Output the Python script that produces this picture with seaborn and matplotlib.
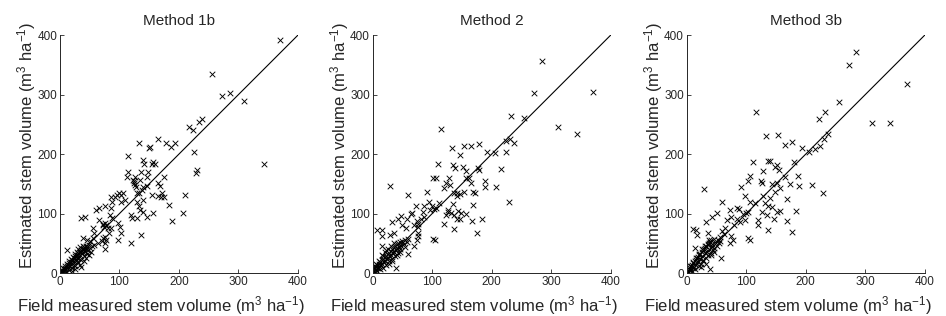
import numpy as np
import pandas as pd
import matplotlib
matplotlib.use("Agg")
import matplotlib.pyplot as plt
import seaborn as sns

# values (m3/ha)
axis_range = [0, 400]
tick_values = [0, 100, 200, 300, 400]
titles = ["Method 1b", "Method 2", "Method 3b"]

m1b_field = [370, 256, 272, 285, 310, 343, 216, 224, 233, 238, 225, 230, 229, 210, 206, 189, 184,
             164, 179, 187, 193, 174, 168, 172, 175, 169, 164, 157, 164, 155, 154, 156, 159, 149,
             151, 148, 147, 146, 147, 140, 137, 139, 132, 139, 141, 136, 134, 140, 138, 132, 130,
             132, 134, 130, 126, 123, 127, 129, 120, 121, 120, 115, 114, 112, 106, 109, 103, 100,
             103, 95, 92, 85, 88, 86, 84, 87, 76, 66, 60, 35, 42, 98, 101, 103, 98, 76, 78, 74, 80,
             85, 83, 76, 73, 77, 70, 64, 75, 76, 66, 56, 57, 55, 50, 53, 58, 45, 39, 11, 125, 126,
             124, 72, 73,
             1, 2, 3, 4, 5, 6, 7, 8, 9, 10, 11, 12, 13, 14, 15, 16, 17, 18, 19, 20, 21, 22, 23, 24,
             25, 26, 27, 28, 29, 30, 31, 32, 33, 34, 35, 36, 37, 38, 39, 40, 41, 42, 43, 44, 45, 46,
             47, 48, 50, 52, 30, 34, 38, 28, 25, 22, 18, 15, 12, 8, 5, 20, 26, 33, 40, 36, 44, 48,
             30, 35, 40, 27, 23]
m1b_est = [391, 335, 298, 302, 290, 183, 246, 240, 254, 259, 204, 173, 168, 131, 101, 88, 115,
           226, 218, 212, 219, 161, 147, 134, 128, 128, 151, 101, 130, 131, 184, 187, 184, 210,
           212, 170, 147, 162, 95, 103, 64, 123, 219, 190, 184, 170, 156, 145, 140, 134, 120,
           112, 106, 92, 162, 156, 145, 134, 98, 92, 50, 196, 170, 162, 134, 123, 131, 134,
           120, 131, 128, 128, 120, 109, 98, 92, 112, 109, 106, 92, 95, 84, 78, 67, 55, 84, 81, 78,
           75, 75, 67, 61, 59, 56, 53, 50, 50, 40, 89, 75, 67, 59, 53, 46, 47, 56, 59, 39, 152,
           148, 155, 80, 82,
           2, 0, 5, 3, 1, 7, 4, 9, 6, 2, 12, 8, 14, 10, 5, 17, 12, 19, 15, 8, 22, 18, 25, 20,
           12, 28, 23, 30, 26, 18, 33, 28, 36, 30, 22, 38, 33, 41, 35, 28, 43, 37, 45, 40, 32, 44,
           39, 47, 42, 36, 40, 44, 46, 35, 32, 27, 24, 20, 16, 12, 8, 3, 6, 14, 20, 10, 25, 30,
           25, 35, 40, 20, 14]

m2_field = [284, 271, 371, 232, 255, 311, 343, 115, 224, 230, 238, 224, 206, 192, 215, 208, 188,
            188, 229, 179, 165, 153, 147, 133, 135, 139, 151, 156, 177, 179, 110, 101, 106, 128,
            123, 130, 120, 141, 137, 146, 154, 141, 165, 162, 168, 172, 156, 135, 168, 167, 184,
            176, 119, 137, 141, 146, 156, 148, 144, 126, 127, 131, 123, 136, 29, 91, 94, 100, 103,
            96, 112, 106, 86, 84, 87, 81, 74, 76, 70, 66, 64, 73, 59, 48, 42, 32, 57, 56, 49, 36,
            29, 8, 16, 16, 101, 105, 76, 76, 76, 74, 70, 59, 39, 15,
            1, 2, 3, 4, 5, 6, 7, 8, 9, 10, 11, 12, 13, 14, 15, 16, 17, 18, 19, 20, 21, 22, 23, 24,
            25, 26, 27, 28, 29, 30, 31, 32, 33, 34, 35, 36, 37, 38, 39, 40, 41, 42, 43, 44, 45, 46,
            48, 50, 52, 54, 55, 58, 60, 25, 30, 20, 35, 15, 40, 45, 32, 28, 22, 18, 10, 5]
m2_est = [357, 303, 305, 264, 261, 246, 233, 242, 222, 226, 218, 203, 201, 204, 175, 145, 155,
          144, 119, 217, 214, 214, 198, 210, 181, 176, 179, 172, 176, 173, 183, 159, 159, 159,
          151, 148, 143, 135, 134, 133, 137, 129, 151, 159, 137, 135, 159, 116, 115, 88, 91,
          68, 83, 74, 91, 91, 100, 101, 105, 106, 102, 101, 98, 98, 147, 137, 119, 112, 107,
          106, 118, 109, 112, 102, 95, 91, 87, 83, 81, 101, 100, 112, 131, 96, 90, 85, 91, 76, 81, 67,
          64, 73, 73, 63, 57, 55, 77, 67, 62, 56, 46, 32, 8, 46,
          3, 8, 1, 12, 5, 10, 3, 14, 8, 16, 11, 6, 18, 13, 22, 15, 9, 24, 18, 27, 21, 14, 29, 24,
          32, 26, 20, 34, 28, 37, 30, 24, 40, 33, 43, 36, 28, 45, 38, 48, 42, 34, 50, 44, 52, 40,
          46, 54, 48, 56, 44, 52, 58, 40, 45, 35, 50, 30, 30, 36, 20, 15, 38, 28, 20, 15]

m3b_field = [285, 272, 370, 255, 233, 223, 311, 342, 116, 237, 230, 224, 215, 206, 193, 176, 165,
             153, 133, 111, 137, 139, 180, 151, 155, 148, 128, 107, 165, 187, 152, 173, 189, 211,
             229, 124, 127, 144, 156, 148, 139, 128, 91, 103, 98, 106, 115, 131, 137, 144, 168,
             168, 184, 177, 156, 151, 126, 134, 146, 137, 120, 120, 99, 103, 98, 85, 88, 73, 74,
             67, 60, 29, 50, 42, 32, 36, 11, 16, 17, 103, 106, 72, 75, 78, 58, 39, 14, 80, 85, 90,
             95, 60, 65, 55, 62,
             1, 2, 3, 4, 5, 6, 7, 8, 9, 10, 11, 12, 13, 14, 15, 16, 17, 18, 19, 20, 21, 22, 23, 24,
             25, 26, 27, 28, 29, 30, 31, 32, 33, 34, 35, 36, 37, 38, 39, 40, 41, 42, 43, 44, 45, 46,
             48, 50, 52, 54, 56, 20, 25, 30, 35, 40, 15, 10, 28, 33, 45, 38, 24, 6]
m3b_est = [372, 349, 317, 288, 271, 259, 253, 252, 270, 234, 226, 213, 208, 203, 211, 220, 215,
           232, 230, 187, 189, 189, 187, 182, 173, 179, 171, 163, 162, 163, 151, 150, 146, 148,
           134, 154, 151, 150, 143, 137, 126, 130, 144, 154, 129, 119, 118, 118, 113, 111, 125,
           88, 105, 69, 105, 103, 103, 98, 91, 73, 89, 81, 101, 102, 89, 109, 108, 106, 95,
           89, 120, 141, 101, 95, 86, 67, 74, 72, 64, 59, 56, 50, 62, 55, 26, 7, 42, 80, 90, 85,
           100, 70, 75, 60, 66,
           4, 1, 7, 2, 9, 5, 12, 3, 14, 8, 17, 10, 20, 6, 22, 14, 25, 18, 27, 12, 30, 24, 32, 16,
           35, 28, 38, 22, 40, 33, 42, 26, 45, 36, 47, 30, 50, 40, 52, 34, 55, 44, 48, 38, 58, 42,
           52, 46, 56, 50, 54, 32, 40, 45, 48, 30, 25, 18, 20, 15, 35, 55, 10, 12]

frames = []
for name, fx, ey in [(titles[0], m1b_field, m1b_est),
                     (titles[1], m2_field, m2_est),
                     (titles[2], m3b_field, m3b_est)]:
    frames.append(pd.DataFrame({"method": name, "field": fx, "estimated": ey}))
df = pd.concat(frames, ignore_index=True)

sns.set_style("ticks")
plt.rcParams["font.family"] = ["Liberation Sans", "DejaVu Sans"]
plt.rcParams["mathtext.fontset"] = "custom"
plt.rcParams["mathtext.rm"] = "Liberation Sans"
plt.rcParams["mathtext.it"] = "Liberation Sans"

fig = plt.figure(figsize=(9.46, 3.16), dpi=100)
lefts = [0.0634, 0.394, 0.726]
for left, name in zip(lefts, titles):
    ax = fig.add_axes([left, 0.136, 0.2516, 0.753])
    sub = df[df["method"] == name]
    sns.scatterplot(data=sub, x="field", y="estimated", marker="x", color="black",
                    s=16, linewidth=0.65, ax=ax, legend=False)
    sns.lineplot(x=axis_range, y=axis_range, color="black", linewidth=0.8, ax=ax)
    ax.set_xlim(axis_range)
    ax.set_ylim(axis_range)
    ax.set_xticks(tick_values)
    ax.set_yticks(tick_values)
    ax.tick_params(direction="in", labelsize=8.5, length=3, width=0.6, pad=2)
    for s in ["left", "bottom"]:
        ax.spines[s].set_linewidth(0.7)
    sns.despine(ax=ax)
    ax.set_title(name, fontsize=11, pad=7)
    ax.set_xlabel(r"Field measured stem volume (m$^3$ ha$^{-1}$)", fontsize=12)
    ax.set_ylabel(r"Estimated stem volume (m$^3$ ha$^{-1}$)", fontsize=12)
    ax.xaxis.set_label_coords(0.425, -0.09)
    ax.yaxis.set_label_coords(-0.092, 0.535)

fig.savefig("out.png", dpi=100)
